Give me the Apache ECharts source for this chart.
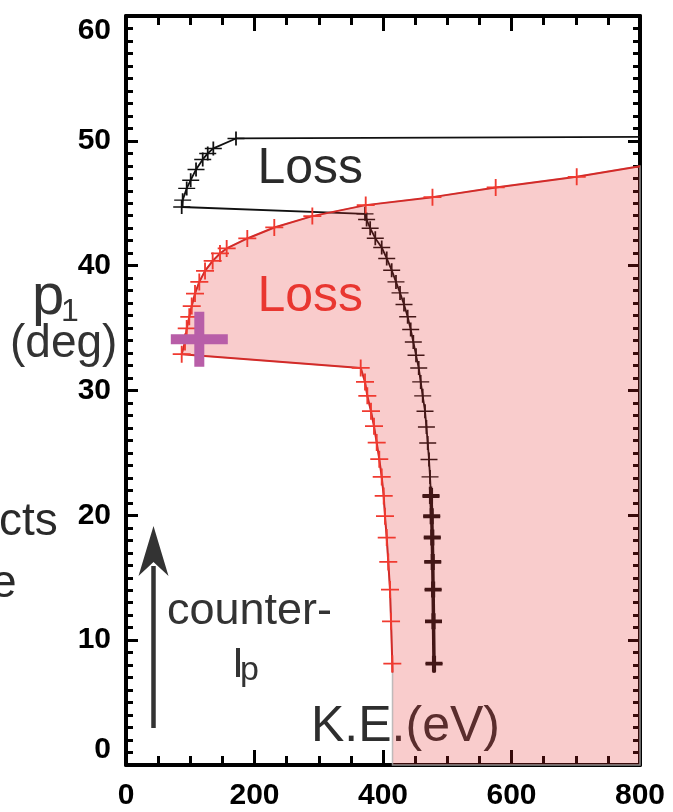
<!DOCTYPE html>
<html>
<head>
<meta charset="utf-8">
<script src="https://cdn.jsdelivr.net/npm/echarts@6/dist/echarts.min.js"></script>
<style>
  html, body { margin: 0; padding: 0; background: #fff; }
  #c { width: 673px; height: 812px; }
</style>
</head>
<body>
<div id="c"></div>
<script>
// Red boundary: K.E. (eV) and pitch angle p1 (deg), from the bottom of the
// steep branch, along the lower edge, then up and out along the upper curve.
const redKE = [414.8, 414.5, 412.5, 410.9, 408.2, 405.8, 403.1, 401.1, 398.0, 394.2,
               390.2, 386.0, 381.3, 375.6, 372.0, 365.3, 86.7, 91.8, 94.5, 98.5,
               102.3, 107.4, 114.1, 123.0, 134.9, 146.3, 156.7, 188.8, 230.8, 290.0,
               373.1, 477.0, 575.4, 701.5, 800];
const redP1 = [7.4, 8.12, 11.51, 14.05, 16.27, 18.22, 19.93, 21.55, 23.08, 24.50,
               25.83, 27.14, 28.34, 29.57, 30.69, 31.81, 32.91, 33.89, 34.97, 35.90,
               36.76, 37.77, 38.70, 39.58, 40.38, 40.98, 41.38, 42.18, 43.06, 43.97,
               44.85, 45.49, 46.27, 47.12, 47.97];

// Black boundary, same ordering.
const blackKE = [479.6, 479.4, 478.6, 478.0, 477.4, 476.7, 475.8, 474.7, 473.2, 471.6,
                 469.6, 467.6, 465.4, 461.8, 458.7, 455.6, 451.4, 447.2, 443.1, 438.4,
                 432.7, 426.5, 420.2, 413.5, 405.8, 398.0, 388.0, 380.0, 374.5, 372.0,
                 86.7, 88.2, 94.5, 100.7, 109.0, 119.4, 127.2, 135.9, 171.2, 800];
const blackP1 = [7.4, 8.12, 11.51, 14.05, 16.27, 18.22, 19.93, 21.55, 23.08, 24.47,
                 25.80, 27.08, 28.34, 29.57, 30.69, 31.81, 32.83, 33.89, 34.89, 35.90,
                 36.89, 37.82, 38.70, 39.64, 40.58, 41.46, 42.2, 43.0, 43.7, 44.15,
                 44.7, 45.25, 46.19, 46.85, 47.71, 48.51, 48.99, 49.39, 50.19, 50.32];

// Heavier overplotted stretch at the bottom of the black branch.
const blackBoldKE = [479.6, 479.4, 478.6, 478.0, 477.4, 476.7, 475.8, 474.7, 474.0];
const blackBoldP1 = [7.4, 8.12, 11.51, 14.05, 16.27, 18.22, 19.93, 21.55, 22.3];

// Closing corners of the shaded loss region (along the plot edges).
const shadeCornerKE = [800, 414.8];
const shadeCornerP1 = [0, 0];

// Highlighted point.
const markKE = [114.1];
const markP1 = [34.1];

// Axis ranges and tick steps.
const keRange = [0, 800], keStep = 200;
const p1Range = [0, 60], p1Step = 10;

const zip = (xs, ys) => xs.map((x, i) => [x, ys[i]]);

const PLUS = 'path://M0,5 L10,5 M5,0 L5,10';
const PLUS_FILLED = 'path://M23.5,0 L33.5,0 L33.5,22.5 L57,22.5 L57,32.5 L33.5,32.5 L33.5,55 L23.5,55 L23.5,32.5 L0,32.5 L0,22.5 L23.5,22.5 Z';
const endsBare = n => (v, p) => (p.dataIndex === 0 || p.dataIndex === n - 1) ? 'none' : PLUS;

const FONT = '"Liberation Sans", Arial, Helvetica, sans-serif';

function axisBase(tickLen, minorLen, minorSplit) {
  return {
    type: 'value',
    axisLine: { show: true, onZero: false, lineStyle: { color: '#000', width: 4 } },
    axisTick: { show: true, inside: true, length: tickLen, lineStyle: { color: '#000', width: 3 } },
    minorTick: { show: true, splitNumber: minorSplit, length: minorLen, lineStyle: { color: '#000', width: 3 } },
    splitLine: { show: false },
    minorSplitLine: { show: false }
  };
}

const labelFont = { color: '#000', fontFamily: FONT, fontWeight: 'bold', fontSize: 30 };

function label(text, x, y, size, fill) {
  return {
    type: 'text', x: x, y: y, z: 0,
    style: { text: text, font: size + 'px ' + FONT, fill: fill,
             textAlign: 'left', textVerticalAlign: 'middle', align: 'left', verticalAlign: 'middle' }
  };
}

const chart = echarts.init(document.getElementById('c'), null, { renderer: 'canvas' });

const shadePts = zip(redKE, redP1).concat(zip(shadeCornerKE, shadeCornerP1));

const option = {
  animation: false,
  backgroundColor: '#fff',
  grid: { left: 126, right: 33, top: 16, bottom: 47, containLabel: false },
  xAxis: [
    Object.assign(axisBase(15, 9, 4), {
      position: 'bottom', min: keRange[0], max: keRange[1], interval: keStep,
      axisLabel: Object.assign({ show: true, margin: 16 }, labelFont)
    }),
    Object.assign(axisBase(15, 9, 4), {
      position: 'top', min: keRange[0], max: keRange[1], interval: keStep,
      axisLabel: { show: false }
    })
  ],
  yAxis: [
    Object.assign(axisBase(12, 7, 10), {
      position: 'left', min: p1Range[0], max: p1Range[1], interval: p1Step,
      axisLabel: Object.assign({ show: true, margin: 15,
        verticalAlignMinLabel: 'bottom', verticalAlignMaxLabel: 'top' }, labelFont)
    }),
    Object.assign(axisBase(12, 7, 10), {
      position: 'right', min: p1Range[0], max: p1Range[1], interval: p1Step,
      axisLabel: { show: false }
    })
  ],
  graphic: [
    // annotations (drawn beneath the series so the shading tints them)
    label('Loss', 257.5, 169.7, 50, '#2a2a2a'),
    label('Loss', 257.5, 297.7, 50, '#ea3a32'),
    label('K.E.(eV)', 311, 727.7, 50, '#2e2e2e'),
    label('p', 32, 298, 58, '#333'),
    label('1', 61, 312, 32, '#333'),
    label('(deg)', 10, 344.5, 46, '#333'),
    label('cts', -1, 522, 46, '#2a2a2a'),
    label('e', -9, 584, 46, '#2a2a2a'),
    label('counter-', 167, 611.5, 45, '#333'),
    label('I', 232, 665, 43, '#333'),
    label('p', 240, 671, 34, '#333'),
    // arrow
    { type: 'line', z: 0, shape: { x1: 153.5, y1: 728, x2: 153.5, y2: 566 },
      style: { stroke: '#333', lineWidth: 4.5 } },
    { type: 'polygon', z: 0,
      shape: { points: [[153.5, 526], [138.5, 576], [153.5, 562], [168.5, 576]] },
      style: { fill: '#333' } }
  ],
  series: [
    {
      type: 'line', name: 'black', z: 2,
      data: zip(blackKE, blackP1),
      symbol: endsBare(blackKE.length), symbolSize: [17, 14],
      showSymbol: true, showAllSymbol: true,
      lineStyle: { color: '#111', width: 1.8 },
      itemStyle: { color: '#111', borderColor: '#111', borderWidth: 1.6 },
      emphasis: { disabled: true }, silent: true
    },
    {
      type: 'line', name: 'blackBold', z: 2,
      data: zip(blackBoldKE, blackBoldP1),
      symbol: endsBare(blackBoldKE.length), symbolSize: [17, 16],
      showSymbol: true, showAllSymbol: true,
      lineStyle: { color: '#111', width: 3.5 },
      itemStyle: { color: '#111', borderColor: '#111', borderWidth: 4 },
      emphasis: { disabled: true }, silent: true
    },
    {
      type: 'custom', name: 'shade', z: 3, silent: true,
      coordinateSystem: 'cartesian2d',
      data: [[shadeCornerKE[0], shadeCornerP1[0]]],
      renderItem: function (params, api) {
        const pts = shadePts.map(p => api.coord(p));
        return {
          type: 'polygon',
          shape: { points: pts },
          style: { fill: 'rgba(228,40,40,0.24)', stroke: 'rgba(175,175,175,0.8)', lineWidth: 1.5 }
        };
      }
    },
    {
      type: 'line', name: 'red', z: 4,
      data: zip(redKE, redP1),
      symbol: endsBare(redKE.length), symbolSize: [18, 17],
      showSymbol: true, showAllSymbol: true,
      lineStyle: { color: '#d42a28', width: 2 },
      itemStyle: { color: '#f03a30', borderColor: '#f03a30', borderWidth: 1.8 },
      emphasis: { disabled: true }, silent: true
    },
    {
      type: 'scatter', name: 'mark', z: 5,
      data: zip(markKE, markP1),
      symbol: PLUS_FILLED, symbolSize: [57, 55],
      itemStyle: { color: '#b85ea8', opacity: 1 },
      emphasis: { disabled: true }, silent: true
    }
  ]
};

chart.setOption(option);
</script>
</body>
</html>
